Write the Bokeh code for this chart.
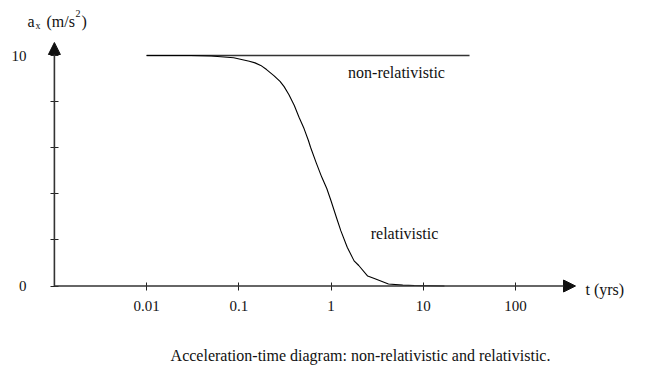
from bokeh.plotting import figure
from bokeh.models import Range1d, FixedTicker, Label, Arrow, NormalHead
from bokeh.embed import file_html
from bokeh.resources import INLINE

# ---- data ----
x_ticks = [0.01, 0.1, 1, 10, 100]
x_tick_labels = ["0.01", "0.1", "1", "10", "100"]
y_ticks = [0, 2, 4, 6, 8, 10]
y_tick_labels = ["0", "", "", "", "", "10"]

nonrel_t = [0.01, 31.8]
nonrel_a = [10, 10]

rel_t = [0.01, 0.03, 0.05, 0.088, 0.13, 0.15, 0.173, 0.2, 0.24, 0.28, 0.31,
         0.35, 0.40, 0.45, 0.51, 0.57, 0.6, 0.69, 0.78, 0.8, 0.9, 1.0, 1.15,
         1.28, 1.5, 1.78, 2.0, 2.5, 3.0, 4.2, 6.0, 8.0, 17.0]
rel_a = [10, 10, 9.98, 9.9, 9.75, 9.68, 9.57, 9.39, 9.13, 8.88, 8.65,
         8.3, 7.83, 7.32, 6.83, 6.3, 6.02, 5.35, 4.8, 4.7, 4.23, 3.7, 2.95,
         2.39, 1.68, 1.09, 0.89, 0.43, 0.31, 0.09, 0.04, 0.02, 0.0]

FONT = "Liberation Serif"
INK = "#111111"

W, H = 656, 366
# pixel mapping of the reference: t=1 at x=330.5, 92.2 px per decade;
# a=0 at y=285.5, 23.05 px per unit
X0, DEC = 330.5, 92.2
Y0, UNIT = 285.5, 23.05


def px_to_t(px):
    return 10 ** ((px - X0) / DEC)


def py_to_a(py):
    return (Y0 - py) / UNIT


x_origin = 0.001
x_tip = px_to_t(575)
y_tip = py_to_a(42)

p = figure(width=W, height=H, x_axis_type="log",
           x_range=Range1d(px_to_t(0), px_to_t(W)),
           y_range=Range1d(py_to_a(H), py_to_a(0)),
           output_backend="svg", toolbar_location=None,
           min_border=0, min_border_left=0, min_border_right=0,
           min_border_top=0, min_border_bottom=0)
p.outline_line_color = None
p.grid.visible = False
p.background_fill_color = "white"
p.border_fill_color = "white"

# axes (placed at the data origin)
xa = p.xaxis[0]
xa.ticker = FixedTicker(ticks=x_ticks)
xa.major_label_overrides = {t: l for t, l in zip(x_ticks, x_tick_labels)}
xa.fixed_location = 0
ya = p.yaxis[0]
ya.ticker = FixedTicker(ticks=y_ticks)
ya.major_label_overrides = {t: l for t, l in zip(y_ticks, y_tick_labels)}
ya.fixed_location = x_origin
for ax in (xa, ya):
    ax.axis_line_color = None
    ax.major_tick_in = 4
    ax.major_tick_out = 4
    ax.major_tick_line_color = "#222222"
    ax.major_tick_line_width = 1
    ax.minor_tick_line_color = None
    ax.major_label_text_font = FONT
    ax.major_label_text_font_size = "15px"
    ax.major_label_text_color = INK
xa.major_label_standoff = 11
ya.major_label_standoff = 24
ya.major_label_orientation = "horizontal"

# axis lines with arrow heads
p.add_layout(Arrow(end=NormalHead(size=12, fill_color="#111111", line_color="#111111"),
                   x_start=x_origin, y_start=0, x_end=x_tip, y_end=0,
                   line_color="#333333", line_width=1.6))
p.add_layout(Arrow(end=NormalHead(size=12, fill_color="#111111", line_color="#111111"),
                   x_start=x_origin, y_start=0, x_end=x_origin, y_end=y_tip,
                   line_color="#333333", line_width=1.6))

# curves
p.line(nonrel_t, nonrel_a, line_color="#333333", line_width=1.4)
p.line(rel_t, rel_a, line_color="#000000", line_width=1.1, line_join="round")


def lab(px, py, text, size="16px", align="left", baseline="middle"):
    p.add_layout(Label(x=px_to_t(px), y=py_to_a(py), text=text, text_font=FONT,
                       text_font_size=size, text_color=INK,
                       text_align=align, text_baseline=baseline))


lab(396, 72, "non-relativistic", align="center")
lab(404, 233, "relativistic", align="center")
lab(585, 289, "t (yrs)")

# y-axis title a_x (m/s^2)
lab(27, 21, "a", baseline="alphabetic")
lab(35, 25, "x", size="10px", baseline="alphabetic")
lab(46, 21, "(m/s", baseline="alphabetic")
lab(75, 13, "2", size="10px", baseline="alphabetic")
lab(81, 21, ")", baseline="alphabetic")

# caption
lab(360, 355, "Acceleration-time diagram: non-relativistic and relativistic.",
    size="16px", align="center")

open("out.html", "w").write(file_html(p, INLINE))
